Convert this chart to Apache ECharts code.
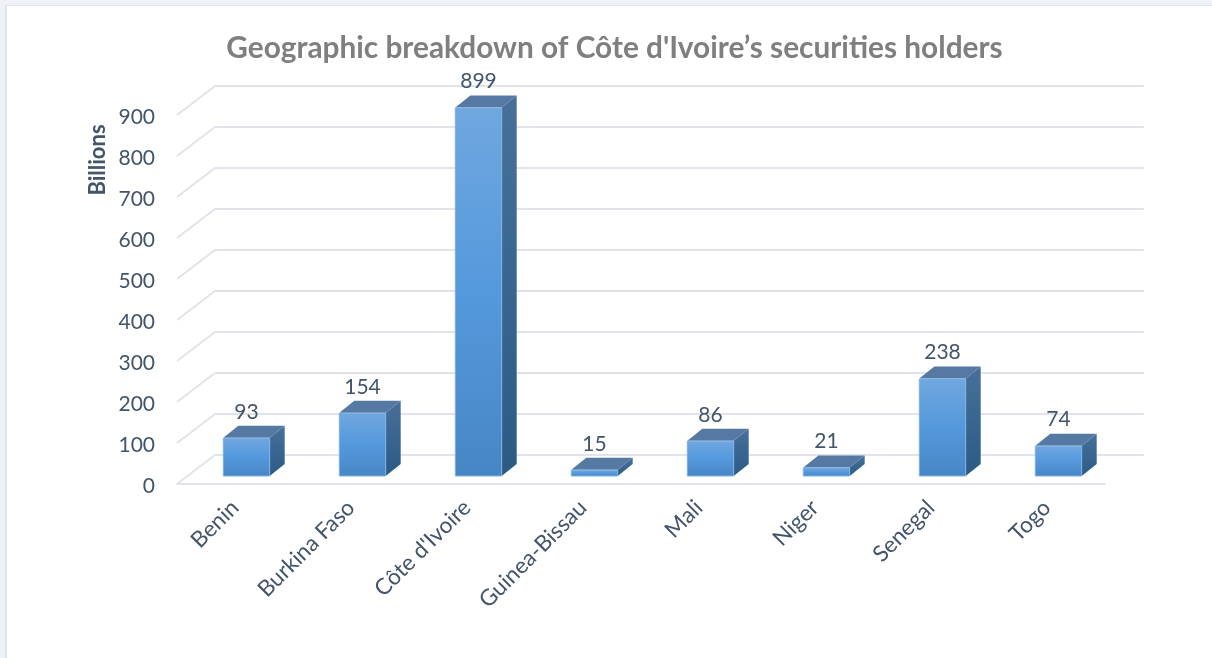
<!DOCTYPE html>
<html>
<head>
<meta charset="utf-8">
<style>html,body{margin:0;padding:0;background:#fff}#c{width:1212px;height:658px}</style>
<script src="https://cdn.jsdelivr.net/npm/echarts@6/dist/echarts.min.js"></script>
</head>
<body>
<div id="c"></div>
<script>
const categories = ["Benin", "Burkina Faso", "Côte d'Ivoire", "Guinea-Bissau", "Mali", "Niger", "Senegal", "Togo"];
const holdings = [93, 154, 899, 15, 86, 21, 238, 74];
const gridTicks = [0, 100, 200, 300, 400, 500, 600, 700, 800, 900];
const titleText = "Geographic breakdown of Côte d'Ivoire’s securities holders";
const axisTitle = "Billions";

const FONT = "Lato";
const TEXT = "#44546a";
const GRID = "#e2e4ec";
const WALL = [38, -29];
const BAR_OFF = [11.5, -8];
const BAR_D = [15, -12];

const chart = echarts.init(document.getElementById('c'), null, {renderer: 'canvas'});

function grad(a, b, c) {
  return {type: 'linear', x: 0, y: 0, x2: 0, y2: 1, colorStops: [
    {offset: 0, color: a}, {offset: 0.5, color: b}, {offset: 1, color: c}]};
}

chart.setOption({
  animation: false,
  backgroundColor: '#ffffff',
  textStyle: {fontFamily: FONT},
  title: {
    text: titleText, left: 609.5, top: 28, textAlign: 'center',
    textStyle: {fontFamily: FONT, fontSize: 29.8, fontWeight: 'bold', color: '#7f7f7f'}
  },
  graphic: [
    {type: 'rect', z: -10, shape: {x: 0, y: 0, width: 1212, height: 5}, style: {fill: '#eff2f6'}},
    {type: 'rect', z: -10, shape: {x: 0, y: 0, width: 5, height: 658}, style: {fill: '#eef1f6'}},
    {type: 'rect', z: -9, shape: {x: 5, y: 5, width: 1207, height: 1}, style: {fill: '#dfe5ee'}},
    {type: 'rect', z: -9, shape: {x: 5, y: 5, width: 2, height: 653}, style: {fill: '#e0e4ef'}},
    {type: 'text', x: 98, y: 160, rotation: Math.PI / 2, z: 5,
      style: {text: axisTitle, fontFamily: FONT, fontSize: 22, fontWeight: 'bold', fill: TEXT, align: 'center', verticalAlign: 'middle'}}
  ],
  grid: {left: 177, right: 107, top: 115, bottom: 174},
  xAxis: {
    type: 'category', data: categories,
    axisLine: {lineStyle: {color: GRID, width: 2}},
    axisTick: {show: false},
    axisLabel: {rotate: 45, interval: 0, margin: 20, fontFamily: FONT, fontSize: 22.5, color: TEXT}
  },
  yAxis: {
    type: 'value', min: 0, max: 900, interval: 100,
    axisLine: {show: false}, axisTick: {show: false}, splitLine: {show: false},
    axisLabel: {margin: 22, fontFamily: FONT, fontSize: 21, color: TEXT, verticalAlign: 'top', lineHeight: 4}
  },
  series: [
    {
      type: 'custom', name: 'grid', silent: true, z: 1, clip: false,
      data: gridTicks.map(t => [0, t]),
      encode: {x: 0, y: 1},
      renderItem(params, api) {
        const cs = params.coordSys;
        const y = api.coord([0, api.value(1)])[1];
        return {
          type: 'polyline',
          shape: {points: [[cs.x, y], [cs.x + WALL[0], y + WALL[1]], [cs.x + cs.width + WALL[0] + 1, y + WALL[1]]]},
          style: {stroke: GRID, lineWidth: 2, fill: null}
        };
      }
    },
    {
      type: 'custom', name: 'Holdings', z: 2, clip: false,
      data: holdings.map((v, i) => [i, v]),
      encode: {x: 0, y: 1},
      renderItem(params, api) {
        const v = api.value(1);
        const top = api.coord([api.value(0), v]);
        const base = api.coord([api.value(0), 0]);
        const w = api.size([1, 0])[0] * 0.4;
        const l = top[0] + BAR_OFF[0] - w / 2, r = l + w;
        const yt = top[1] + BAR_OFF[1], yb = base[1] + BAR_OFF[1];
        const dx = BAR_D[0], dy = BAR_D[1];
        return {
          type: 'group',
          children: [
            {type: 'polygon', shape: {points: [[r, yt], [r + dx, yt + dy], [r + dx, yb + dy], [r, yb]]},
              style: {fill: grad('#47709a', '#386690', '#2b5a85')}},
            {type: 'polygon', shape: {points: [[l, yt], [l + dx, yt + dy], [r + dx, yt + dy], [r, yt]]},
              style: {fill: '#5679a4'}},
            {type: 'rect', shape: {x: l, y: yt + 0.5, width: w, height: yb - yt - 0.5},
              style: {fill: grad('#70a7df', '#5499dd', '#4786c5'), stroke: '#7fb1e2', lineWidth: 1}},
            {type: 'text', x: (l + r) / 2, y: yt - 26,
              style: {text: String(v), fontFamily: FONT, fontSize: 21, fill: TEXT, align: 'center', verticalAlign: 'middle'}}
          ]
        };
      }
    }
  ]
});
</script>
</body>
</html>
